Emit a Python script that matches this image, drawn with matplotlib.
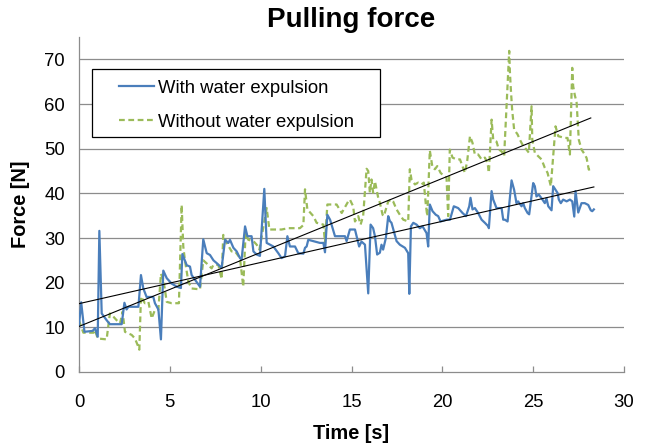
import matplotlib
matplotlib.use("Agg")
import matplotlib.pyplot as plt
from matplotlib.patches import Rectangle

plt.rcParams['font.family'] = ['Liberation Sans', 'DejaVu Sans']

# ----------------------------
# DATA
# ----------------------------
with_time = [
    0.0, 0.12, 0.3, 0.55, 0.75, 0.88, 1.03, 1.12, 1.25, 1.52, 1.7, 2.0, 2.35, 2.5,
    2.62, 2.72, 3.0, 3.27, 3.41, 3.54, 3.72, 4.09, 4.18, 4.37, 4.51, 4.64, 4.83,
    5.1, 5.38, 5.61, 5.69, 5.93, 6.11, 6.2, 6.66, 6.84, 7.03, 7.21, 7.4, 7.6, 7.85,
    8.04, 8.22, 8.31, 8.5, 8.68, 8.86, 8.95, 9.14, 9.27, 9.5, 9.6, 9.78, 9.96,
    10.2, 10.33, 10.51, 10.7, 10.97, 11.15, 11.34, 11.47, 11.61, 11.89, 12.07,
    12.35, 12.44, 12.53, 12.62, 12.9, 13.26, 13.45, 13.54, 13.67, 13.82, 14.09,
    14.64, 14.73, 14.91, 15.19, 15.28, 15.42, 15.55, 15.74, 15.92, 16.05, 16.19,
    16.29, 16.41, 16.56, 16.65, 16.74, 16.89, 17.02, 17.11, 17.2, 17.48, 17.66,
    17.94, 18.12, 18.18, 18.27, 18.4, 18.58, 18.76, 18.91, 19.13, 19.22, 19.31,
    19.46, 19.64, 19.77, 19.9, 20.23, 20.42, 20.63, 20.87, 21.11, 21.3, 21.48,
    21.55, 21.66, 21.79, 21.97, 22.16, 22.34, 22.53, 22.56, 22.71, 22.8, 22.98,
    23.26, 23.35, 23.44, 23.59, 23.81, 23.95, 24.08, 24.17, 24.36, 24.45, 24.54,
    24.69, 24.78, 25.0, 25.09, 25.18, 25.31, 25.46, 25.64, 25.73, 25.83, 26.01,
    26.1, 26.23, 26.34, 26.41, 26.52, 26.65, 26.84, 27.02, 27.15, 27.26, 27.33,
    27.48, 27.66, 27.84, 28.03, 28.17, 28.25, 28.34,
]
with_force = [
    10.5, 15.6, 9.0, 9.1, 9.2, 9.8, 7.9, 31.6, 13.1, 11.6, 10.7, 10.7, 10.7, 15.5,
    14.0, 14.6, 14.6, 14.6, 21.7, 18.7, 16.8, 16.8, 15.4, 14.0, 7.3, 22.7, 21.0,
    19.8, 19.1, 18.8, 26.4, 23.9, 23.6, 21.7, 19.1, 29.7, 26.6, 26.2, 25.0, 24.3, 23.3,
    29.6, 28.9, 29.6, 27.8, 27.0, 25.5, 25.2, 32.6, 30.4, 30.4, 27.0, 26.3, 26.0,
    41.0, 28.9, 28.5, 28.1, 26.6, 25.5, 25.9, 30.4, 28.1, 28.1, 26.6,
    26.5, 27.8, 28.1, 29.6, 29.3, 28.9, 28.9, 26.8, 35.2, 34.1, 30.4,
    30.4, 29.3, 31.9, 31.9, 30.4, 28.1, 29.2, 28.5, 17.6, 33.0, 32.2,
    30.4, 26.3, 26.7, 28.5, 27.4, 30.0, 34.9, 33.8, 33.4, 29.3, 28.5,
    27.8, 26.6, 17.5, 32.6, 33.4, 33.0, 32.2, 32.6, 31.1, 28.1, 37.5,
    36.0, 35.2, 34.9, 33.7, 34.1, 34.1, 37.1, 36.7, 35.6, 34.9, 37.1,
    39.0, 36.4, 36.7, 35.6, 34.1, 33.4, 32.6, 32.2, 40.5, 38.6, 36.7,
    36.7, 34.1, 34.1, 33.7, 42.9, 40.8, 37.8, 38.2, 37.1, 37.8, 36.7,
    35.6, 35.3, 42.3, 41.6, 39.3, 39.7, 38.9, 37.8, 38.9, 37.1, 36.2,
    41.6, 40.8, 40.1, 38.6, 37.8, 38.6, 38.2, 38.6, 38.2, 34.8, 40.5,
    35.7, 37.8, 37.8, 37.4, 36.2, 36.0, 36.4,
]

without_time = [
    0.0, 0.24, 0.8, 0.88, 1.03, 1.52, 1.7, 1.89, 2.07, 2.26, 2.4, 2.53, 2.9, 3.08,
    3.23, 3.32, 3.41, 3.63, 3.82, 4.0, 4.18, 4.37, 4.51, 4.64, 4.73, 4.83, 5.1,
    5.5, 5.65, 5.74, 5.83, 6.02, 6.2, 6.66, 6.84, 7.03, 7.3, 7.4, 7.67, 7.85, 7.94,
    8.13, 8.4, 8.59, 8.86, 9.04, 9.17, 9.32, 9.6, 9.78, 9.93, 10.33, 10.48, 10.88,
    11.15, 11.52, 12.16, 12.35, 12.44, 12.57, 12.9, 13.08, 13.45, 13.54, 13.67,
    14.18, 14.46, 14.82, 14.91, 15.09, 15.19, 15.37, 15.5, 15.64, 15.83, 15.92,
    16.01, 16.1, 16.19, 16.29, 16.47, 16.56, 16.71, 16.78, 17.02, 17.2, 17.29,
    17.48, 17.66, 17.85, 18.12, 18.21, 18.3, 18.49, 18.67, 18.85, 18.98, 19.09,
    19.17, 19.31, 19.46, 19.59, 19.72, 19.9, 20.08, 20.23, 20.32, 20.41, 20.56,
    20.78, 20.97, 21.24, 21.37, 21.52, 21.66, 21.79, 21.97, 22.16, 22.34, 22.49,
    22.56, 22.71, 22.8, 22.98, 23.11, 23.26, 23.4, 23.68, 23.72, 23.77, 23.84,
    23.95, 24.14, 24.27, 24.45, 24.63, 24.76, 24.91, 24.95, 25.09, 25.28, 25.46,
    25.64, 25.79, 25.97, 26.23, 26.38, 26.74, 26.89, 27.02, 27.15, 27.2, 27.29,
    27.39, 27.51, 27.66, 27.84, 27.94, 28.06, 28.17,
]
without_force = [
    11.5, 8.8, 8.8, 9.4, 7.5, 7.3, 13.1, 12.4, 11.6, 10.9, 13.5, 9.0, 8.3, 7.5,
    6.0, 5.0, 16.9, 15.4, 15.7, 12.0, 13.9, 14.0, 22.0, 20.6, 18.4, 15.7, 15.4,
    15.4, 37.4, 28.1, 25.0, 20.2, 18.7, 18.5, 25.0, 24.3, 23.2, 24.0, 24.0, 20.8, 30.7,
    28.9, 27.0, 27.0, 25.5, 19.1, 31.1, 29.6, 29.3, 28.5, 27.4, 36.7, 31.9, 31.9,
    31.9, 32.2, 32.2, 32.9, 40.9, 36.4, 34.9, 33.4, 33.0, 29.0, 37.5,
    37.5, 35.6, 38.2, 38.6, 37.1, 33.7, 34.9, 33.0, 34.9, 45.5, 45.0,
    40.1, 43.1, 40.1, 42.7, 39.0, 37.9, 35.2, 34.9, 38.2, 38.6, 38.2,
    36.4, 35.2, 34.1, 33.7, 45.4, 43.1, 42.0, 42.4, 42.0, 42.4, 37.5,
    34.9, 49.6, 45.7, 45.4, 46.1, 44.6, 43.9, 43.5, 34.9, 49.8, 48.0,
    47.6, 47.6, 44.6, 47.3, 52.8, 51.3, 48.7, 48.7, 47.6, 48.0, 46.8,
    44.6, 56.5, 52.0, 51.6, 49.8, 49.4, 48.3, 71.9, 67.0, 63.3, 58.8,
    54.3, 53.2, 52.0, 50.6, 49.8, 49.1, 59.5, 52.0, 49.1, 48.3, 47.6,
    45.7, 44.6, 41.6, 55.0, 52.8, 52.4, 52.4, 48.7, 68.1, 64.0, 62.0,
    60.3, 52.0, 49.8, 48.7, 47.9, 45.3, 45.5,
]

# linear trend lines (slope, intercept) as shown in the reference
with_trend = (0.922, 15.3)
without_trend = (1.657, 10.2)

labels = ["With water expulsion", "Without water expulsion"]
x_ticks = [0, 5, 10, 15, 20, 25, 30]
y_ticks = [0, 10, 20, 30, 40, 50, 60, 70]

# ----------------------------
# VISUALIZATION
# ----------------------------
fig = plt.figure(figsize=(6.47, 4.47), dpi=100)
ax = fig.add_axes([0.1221, 0.1678, 0.8424, 0.7494])

grid_color = "#8c8c8c"
for y in y_ticks[1:]:
    ax.axhline(y, color=grid_color, lw=0.9, zorder=1)

ax.plot(with_time, with_force, color="#4a7ebb", lw=1.6, zorder=3, label=labels[0])
ax.plot(without_time, without_force, color="#9bbb59", lw=1.6,
        linestyle=(0, (2.6, 1.6)), zorder=2, label=labels[1])

# trend lines over each series' own time span
for times, (slope, icpt) in [(with_time, with_trend), (without_time, without_trend)]:
    xs = [times[0], times[-1]]
    ax.plot(xs, [slope * x + icpt for x in xs], color="black", lw=0.8, zorder=4)

ax.set_xlim(0, 30)
ax.set_ylim(0, 75)
ax.set_xticks(x_ticks)
ax.set_yticks(y_ticks)
ax.tick_params(axis="x", direction="in", length=4, width=0.9, color=grid_color,
               labelsize=13.3, pad=16)
ax.tick_params(axis="y", length=0, labelsize=13.3, pad=10)

for side in ["top", "right"]:
    ax.spines[side].set_visible(False)
for side in ["left", "bottom"]:
    ax.spines[side].set_color(grid_color)
    ax.spines[side].set_linewidth(0.9)

ax.set_title("Pulling force", fontsize=20, fontweight="bold", pad=7)
ax.set_xlabel("Time [s]", fontsize=14.4, fontweight="bold", labelpad=9)
ax.set_ylabel("Force [N]", fontsize=14.4, fontweight="bold", labelpad=10)

# legend box
ax.add_patch(Rectangle((0.024, 0.701), 0.528, 0.203, transform=ax.transAxes,
                       facecolor="white", edgecolor="black", lw=0.9, zorder=5))
leg = ax.legend(loc="upper left", bbox_to_anchor=(0.073, 0.873), frameon=False,
                fontsize=13.3, handlelength=1.9, handletextpad=0.2,
                borderpad=0, borderaxespad=0, labelspacing=0.93)
leg.set_zorder(6)

plt.savefig("out.png", dpi=100)
